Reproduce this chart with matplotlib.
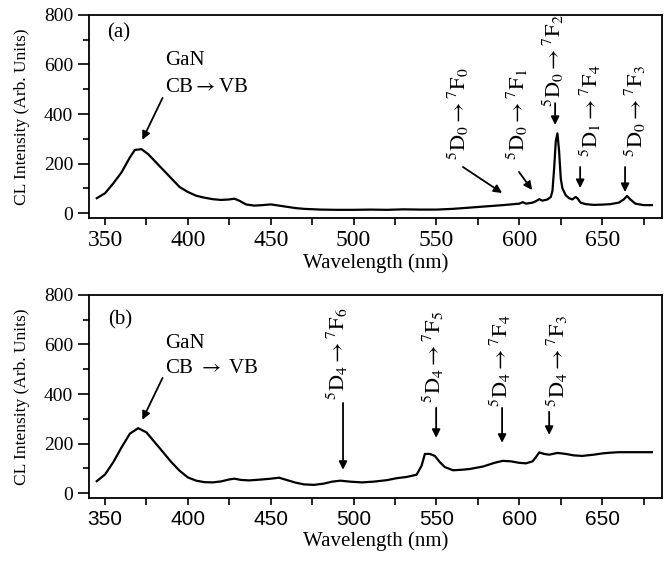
import matplotlib
matplotlib.use("Agg")
import matplotlib.pyplot as plt
from matplotlib.ticker import MultipleLocator

plt.rcParams['font.family'] = ['Liberation Serif', 'DejaVu Serif']
plt.rcParams['mathtext.fontset'] = 'stix'

# ---- data ----
wl_a = [345, 350, 355, 360, 365, 368, 372, 376, 380, 385, 390, 395, 400, 405, 410, 415, 420,
        425, 428, 431, 435, 440, 445, 450, 455, 460, 465, 470, 480, 490, 500, 510, 520, 530,
        540, 550, 560, 570, 580, 590, 595, 600, 602, 604, 608, 610, 612, 614, 617, 619, 620,
        621, 622, 623, 624, 625, 626, 628, 630, 632, 634, 635, 637, 640, 645, 650, 655, 660,
        663, 665, 667, 670, 675, 680]
int_a = [60, 80, 120, 165, 225, 255, 258, 238, 210, 175, 140, 105, 85, 70, 62, 56, 53,
         55, 58, 50, 35, 30, 32, 35, 30, 25, 20, 17, 14, 13, 13, 14, 13, 15,
         14, 14, 17, 22, 27, 32, 35, 38, 44, 38, 42, 48, 56, 50, 55, 65, 90,
         180, 290, 322, 250, 140, 100, 72, 60, 55, 65, 60, 42, 36, 33, 34, 36, 42,
         55, 69, 55, 38, 32, 32]

wl_b = [345, 350, 355, 360, 365, 370, 375, 380, 385, 390, 395, 400, 405, 410, 415, 420, 425,
        428, 432, 437, 445, 450, 455, 460, 465, 470, 476, 482, 487, 492, 498, 505, 512, 520,
        526, 532, 538, 541, 543, 546, 549, 552, 555, 560, 565, 570, 578, 585, 590, 595, 600,
        604, 608, 610, 612, 615, 618, 623, 628, 633, 638, 645, 650, 655, 660, 670, 680]
int_b = [48, 75, 125, 185, 240, 262, 245, 205, 165, 125, 90, 63, 50, 44, 43, 47, 55,
         58, 53, 51, 55, 58, 62, 52, 42, 35, 33, 38, 46, 50, 46, 43, 46, 52,
         60, 65, 74, 110, 158, 158, 150, 125, 105, 92, 94, 97, 107, 122, 130, 128, 122,
         120, 128, 145, 164, 158, 155, 162, 158, 152, 150, 155, 160, 163, 165, 165, 165]

xticks = [350, 400, 450, 500, 550, 600, 650]
yticks = [0, 200, 400, 600, 800]

labels_a = [r"$^{5}\mathrm{D}_{0}\rightarrow{}^{7}\mathrm{F}_{0}$",
            r"$^{5}\mathrm{D}_{0}\rightarrow{}^{7}\mathrm{F}_{1}$",
            r"$^{5}\mathrm{D}_{0}\rightarrow{}^{7}\mathrm{F}_{2}$",
            r"$^{5}\mathrm{D}_{1}\rightarrow{}^{7}\mathrm{F}_{4}$",
            r"$^{5}\mathrm{D}_{0}\rightarrow{}^{7}\mathrm{F}_{3}$"]
labels_b = [r"$^{5}\mathrm{D}_{4}\rightarrow{}^{7}\mathrm{F}_{6}$",
            r"$^{5}\mathrm{D}_{4}\rightarrow{}^{7}\mathrm{F}_{5}$",
            r"$^{5}\mathrm{D}_{4}\rightarrow{}^{7}\mathrm{F}_{4}$",
            r"$^{5}\mathrm{D}_{4}\rightarrow{}^{7}\mathrm{F}_{3}$"]

# label anchor (x, bottom y) and arrow (tail, head) in data coords
lab_pos_a = [(563, 214), (598.6, 214), (620.4, 428), (642.7, 226), (669.9, 226)]
arr_a = [((566, 186), (589.6, 81)), ((599.8, 166), (607.7, 93)),
         ((621.6, 444), (621.6, 356)), ((636.7, 186), (636.7, 101)),
         ((663.8, 186), (663.8, 85))]
lab_pos_b = [(490, 376), (548, 364), (588.4, 348), (622.8, 348)]
arr_b = [((493.6, 364), (493.6, 94)), ((549.8, 344), (549.8, 223)),
         ((589.6, 344), (589.6, 203)), ((618, 328), (618, 235))]

fig = plt.figure(figsize=(6.65, 5.61), dpi=100)
ax_a = fig.add_axes([0.1338, 0.6114, 0.8617, 0.3619])
ax_b = fig.add_axes([0.1338, 0.1123, 0.8617, 0.3619])

arrow_kw = dict(arrowstyle='-|>', color='k', lw=1.3, mutation_scale=12,
                shrinkA=0, shrinkB=0)

for ax, wl, it in [(ax_a, wl_a, int_a), (ax_b, wl_b, int_b)]:
    ax.plot(wl, it, color='k', lw=1.6)
    ax.set_xlim(340.3, 686.1)
    ax.set_ylim(-20, 800)
    ax.set_xticks(xticks)
    ax.set_yticks(yticks)
    ax.xaxis.set_minor_locator(MultipleLocator(25))
    ax.yaxis.set_minor_locator(MultipleLocator(100))
    ax.tick_params(axis='x', which='both', direction='out', length=5, width=1.2, labelsize=17)
    ax.tick_params(axis='y', which='major', direction='out', length=8, width=1.2, labelsize=14)
    ax.tick_params(axis='y', which='minor', direction='out', length=4, width=1.2)
    for s in ax.spines.values():
        s.set_linewidth(1.3)
    ax.set_xlabel("Wavelength (nm)", fontsize=15, labelpad=2)
    ax.set_ylabel("CL Intensity (Arb. Units)", fontsize=12.5, labelpad=10)
    ax.annotate('', xy=(372.5, 296), xytext=(384.7, 465), arrowprops=arrow_kw)

for lbl in ax_b.get_xticklabels():
    lbl.set_family('Liberation Sans')
    lbl.set_fontsize(15)

ax_a.text(351, 727, "(a)", fontsize=15, ha='left', va='center')
ax_a.text(386, 618, "GaN", fontsize=15, ha='left', va='center')
ax_a.text(386, 509, r"CB$\rightarrow$VB", fontsize=15, ha='left', va='center')
ax_b.text(351.8, 699, "(b)", fontsize=15, ha='left', va='center')
ax_b.text(386, 606, "GaN", fontsize=15, ha='left', va='center')
ax_b.text(386, 505, r"CB $\rightarrow$ VB", fontsize=15, ha='left', va='center')

for lab, (px, py), (tail, head) in zip(labels_a, lab_pos_a, arr_a):
    ax_a.text(px, py, lab, rotation=90, ha='center', va='bottom', fontsize=16)
    ax_a.annotate('', xy=head, xytext=tail, arrowprops=arrow_kw)
for lab, (px, py), (tail, head) in zip(labels_b, lab_pos_b, arr_b):
    ax_b.text(px, py, lab, rotation=90, ha='center', va='bottom', fontsize=16)
    ax_b.annotate('', xy=head, xytext=tail, arrowprops=arrow_kw)

fig.savefig("out.png", dpi=100)
